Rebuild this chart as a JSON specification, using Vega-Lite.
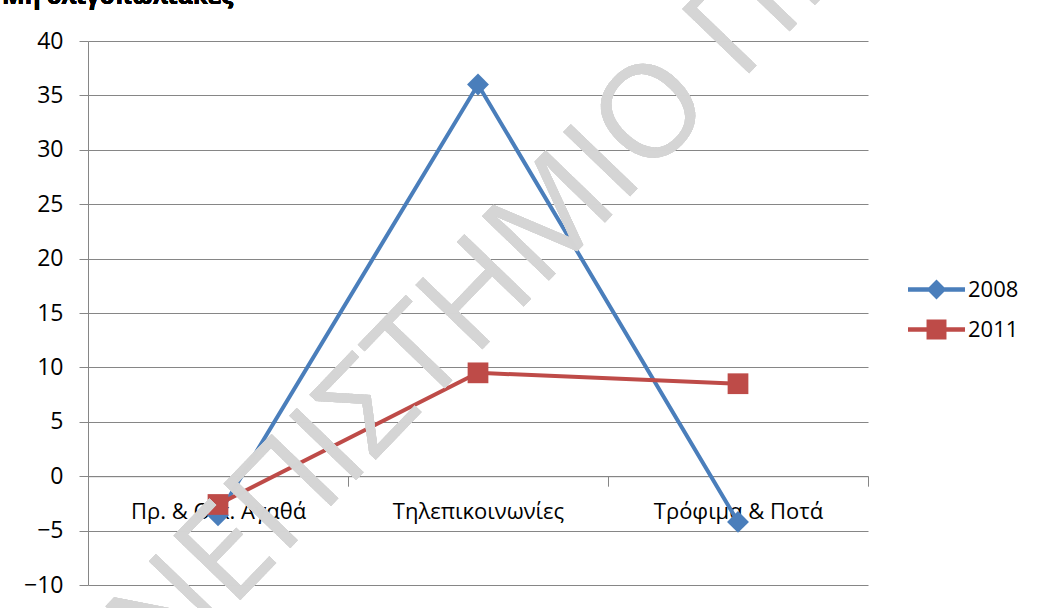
{
  "$schema": "https://vega.github.io/schema/vega-lite/v6.json",
  "width": 780,
  "height": 544,
  "autosize": "none",
  "padding": {"left": 88, "top": 41, "right": 169, "bottom": 23},
  "background": "white",
  "data": {
    "values": [
      {"category": "Πρ. & Οικ. Αγαθά", "year": "2008", "value": -3.6},
      {"category": "Τηλεπικοινωνίες", "year": "2008", "value": 36},
      {"category": "Τρόφιμα & Ποτά", "year": "2008", "value": -4.2},
      {"category": "Πρ. & Οικ. Αγαθά", "year": "2011", "value": -2.6},
      {"category": "Τηλεπικοινωνίες", "year": "2011", "value": 9.5},
      {"category": "Τρόφιμα & Ποτά", "year": "2011", "value": 8.5}
    ]
  },
  "encoding": {
    "x": {
      "field": "category",
      "type": "nominal",
      "sort": null,
      "scale": {"type": "band", "paddingInner": 0, "paddingOuter": 0},
      "axis": {
        "title": null,
        "orient": "bottom",
        "offset": -108.8,
        "labelAngle": 0,
        "tickBand": "extent",
        "tickSize": 10,
        "tickColor": "#868686",
        "domainColor": "#868686",
        "labelPadding": 15,
        "labelFont": "Open Sans",
        "labelFontSize": 22,
        "labelColor": "#000000",
        "grid": false
      }
    },
    "y": {
      "field": "value",
      "type": "quantitative",
      "scale": {"domain": [-10, 40], "nice": false, "zero": false},
      "axis": {
        "title": null,
        "values": [-10, -5, 0, 5, 10, 15, 20, 25, 30, 35, 40],
        "grid": true,
        "gridColor": "#868686",
        "gridWidth": 1,
        "tickColor": "#868686",
        "tickSize": 9,
        "domainColor": "#868686",
        "labelPadding": 16,
        "labelFont": "Open Sans",
        "labelFontSize": 23,
        "labelColor": "#000000"
      }
    }
  },
  "layer": [
    {
      "mark": {"type": "line", "strokeWidth": 4},
      "encoding": {
        "color": {
          "field": "year",
          "type": "nominal",
          "scale": {"domain": ["2008", "2011"], "range": ["#4A7EBB", "#BE4B48"]},
          "legend": {
            "title": null,
            "orient": "none",
            "legendX": 820,
            "legendY": 220,
            "padding": 0,
            "symbolSize": 3249,
            "rowPadding": -2,
            "labelOffset": 3,
            "labelFont": "Open Sans",
            "labelFontSize": 22,
            "labelColor": "#000000",
            "encode": {
              "symbols": {
                "update": {
                  "shape": {"signal": "datum.value === '2008' ? 'M-1,-0.08H-0.27L0,-0.35L0.27,-0.08H1V0.08H0.27L0,0.35L-0.27,0.08H-1Z' : 'M-1,-0.08H-0.35V-0.35H0.35V-0.08H1V0.08H0.35V0.35H-0.35V0.08H-1Z'"},
                  "fill": {"scale": "color", "field": "value"},
                  "strokeWidth": {"value": 0},
                  "opacity": {"value": 1}
                }
              }
            }
          }
        }
      }
    },
    {
      "transform": [{"filter": "datum.year === '2008'"}],
      "mark": {"type": "point", "shape": "diamond", "filled": true, "size": 480, "color": "#4A7EBB", "opacity": 1}
    },
    {
      "transform": [{"filter": "datum.year === '2011'"}],
      "mark": {"type": "point", "shape": "square", "filled": true, "size": 430, "color": "#BE4B48", "opacity": 1}
    },
    {
      "mark": {
        "type": "text",
        "angle": -46,
        "align": "center",
        "baseline": "middle",
        "font": "Open Sans",
        "fontSize": 130,
        "fill": "#d4d4d4",
        "fillOpacity": 0.7,
        "dx": 121
      },
      "encoding": {
        "x": {"datum": "Τηλεπικοινωνίες"},
        "y": {"datum": 16.4},
        "text": {"value": "ΠΑΝΕΠΙΣΤΗΜΙΟ ΠΕΙΡΑΙΩΣ"}
      }
    },
    {
      "mark": {
        "type": "text",
        "align": "left",
        "baseline": "alphabetic",
        "font": "Open Sans",
        "fontSize": 24,
        "fontWeight": "bold",
        "color": "#000000",
        "dx": -216,
        "dy": -37
      },
      "encoding": {
        "x": {"datum": "Πρ. & Οικ. Αγαθά"},
        "y": {"datum": 40},
        "text": {"value": "Μη ολιγοπωλιακές"}
      }
    }
  ],
  "config": {
    "view": {"stroke": null},
    "axis": {"domainWidth": 1, "tickWidth": 1}
  }
}
